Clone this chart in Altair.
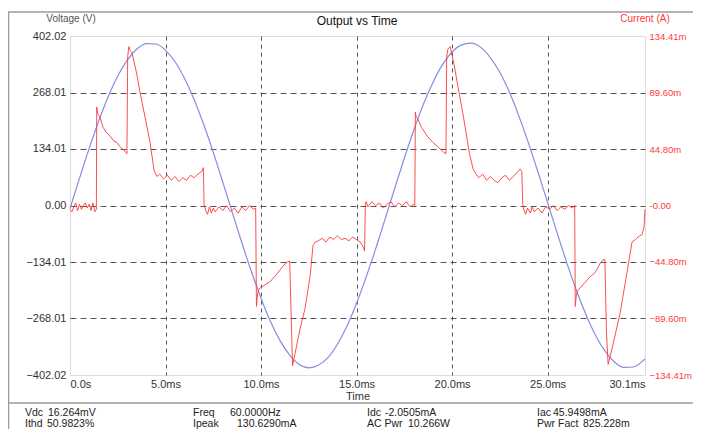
import altair as alt
import pandas as pd

# ---------------- data ----------------
# Voltage (V) sampled every 0.5 ms
t_volt = [0.0, 0.5, 1.0, 1.5, 2.0, 2.5, 3.0, 3.5, 4.0, 4.5,
          5.0, 5.5, 6.0, 6.5, 7.0, 7.5, 8.0, 8.5, 9.0, 9.5,
          10.0, 10.5, 11.0, 11.5, 12.0, 12.5, 13.0, 13.5, 14.0, 14.5,
          15.0, 15.5, 16.0, 16.5, 17.0, 17.5, 18.0, 18.5, 19.0, 19.5,
          20.0, 20.5, 21.0, 21.5, 22.0, 22.5, 23.0, 23.5, 24.0, 24.5,
          25.0, 25.5, 26.0, 26.5, 27.0, 27.5, 28.0, 28.5, 29.0, 29.5,
          30.0, 30.1]
v_volt = [-7, 65, 135, 200, 258, 307, 345, 371, 384, 383,
          368, 341, 301, 251, 192, 126, 55, -17, -89, -157,
          -220, -276, -321, -355, -377, -385, -379, -361, -329, -286,
          -232, -170, -103, -31, 41, 112, 179, 240, 292, 334,
          364, 381, 385, 375, 351, 316, 269, 212, 148, 79,
          7, -65, -135, -200, -258, -307, -345, -371, -384, -383,
          -368, -364]

# Current (mA)
t_cur = [0.0, 0.1, 0.2, 0.3, 0.4, 0.5, 0.6, 0.7, 0.8, 0.9, 1.0, 1.1, 1.2, 1.3, 1.38,
         1.40, 1.45, 1.57, 1.73, 1.9, 2.1, 2.3, 2.46, 2.65, 2.88, 2.98,
         3.02, 3.08, 3.15, 3.25, 3.5, 3.66, 3.93, 4.19, 4.4, 4.55,
         4.7, 4.9, 5.1, 5.3, 5.5, 5.7, 5.9, 6.1, 6.3, 6.5, 6.7, 6.9, 6.98, 7.02,
         7.1, 7.2, 7.3, 7.4, 7.5, 7.6, 7.8, 8.0, 8.2, 8.4, 8.6, 8.8, 9.0, 9.2, 9.4, 9.6, 9.72,
         9.76, 9.82, 9.9, 10.2, 10.5, 10.85, 11.15, 11.36, 11.5,
         11.6, 11.65, 12.04, 12.3, 12.57, 12.72, 12.83,
         13.0, 13.2, 13.4, 13.6, 13.8, 14.0, 14.2, 14.4, 14.6, 14.8, 15.0, 15.2, 15.35, 15.42,
         15.46, 15.5, 15.6, 15.8, 16.0, 16.2, 16.4, 16.6, 16.8, 17.0, 17.2, 17.4, 17.6, 17.8, 18.0, 18.05,
         18.08, 18.12, 18.2, 18.4, 18.7, 19.0, 19.3, 19.5, 19.68,
         19.72, 19.78, 19.9, 20.1, 20.3, 20.6, 20.9, 21.1, 21.25,
         21.4, 21.6, 21.8, 22.0, 22.2, 22.4, 22.6, 22.8, 23.0, 23.2, 23.4, 23.55, 23.65, 23.7,
         23.75, 23.85, 23.95, 24.1, 24.2, 24.3, 24.5, 24.7, 24.9, 25.1, 25.3, 25.5, 25.7, 25.9, 26.1, 26.3, 26.42,
         26.45, 26.5, 26.55, 26.96, 27.2, 27.5, 27.75, 27.9, 28.0,
         28.08, 28.17, 28.4, 28.8, 29.16, 29.42, 29.6, 29.74, 29.95, 30.05, 30.1]
i_cur = [-3, -5, -1, 2, -4, 1, -3, 0, 2, -2, 1, -4, 2, -5, -3,
         78, 73, 70, 62, 58, 55, 51, 50, 46, 43, 41,
         118, 126, 123, 121, 104, 90, 70, 50, 28, 23,
         25, 21, 24, 20, 23, 19, 22, 20, 24, 22, 25, 27, 30, 1,
         -4, -7, -1, -6, -2, -5, -1, -4, 0, -5, -2, -6, -1, -4, 0, -3, -2,
         -80, -70, -66, -63, -60, -54, -48, -45, -44,
         -100, -127, -98, -82, -56, -32, -29,
         -28, -26, -29, -25, -27, -24, -27, -26, -28, -25, -27, -29, -33, -36,
         1, 3, -1, 3, 0, 2, -2, 1, 3, -1, 2, 0, 3, -1, 1, 0,
         74, 70, 69, 62, 55, 50, 46, 43, 41,
         118, 124, 126, 112, 95, 70, 42, 29, 25,
         22, 25, 20, 23, 20, 18, 22, 24, 20, 23, 26, 29, 27, 1,
         -3, -7, -2, -6, -1, -5, -2, -6, -1, -3, 0, -4, -1, -3, 0, -2, 0,
         -80, -72, -68, -61, -57, -53, -46, -43, -43,
         -100, -126, -112, -85, -53, -29, -27, -25, -23, -17, -3]

x_ticks = [0, 5, 10, 15, 20, 25, 30.1]
v_ticks = [-402.02, -268.01, -134.01, 0, 134.01, 268.01, 402.02]
i_ticks = [-134.41, -89.60, -44.80, 0, 44.80, 89.60, 134.41]

stat_names = ["Vdc", "Ithd", "Freq", "Ipeak", "Idc", "AC Pwr", "Iac", "Pwr Fact"]
stat_values = ["16.264mV", "50.9823%", "60.0000Hz", "130.6290mA",
               "-2.0505mA", "10.266W", "45.9498mA", "825.228m"]

# ---------------- layout / style ----------------
FONT = "Liberation Sans"
W, H = 575, 339
PLOT_X0, PLOT_Y0 = 70, 36          # page position of plot origin
RED = "#ff3a3a"
BLUE = "#8a8ae0"

volt_df = pd.DataFrame({"t": t_volt, "v": v_volt})
cur_df = pd.DataFrame({"t": t_cur, "i": i_cur})
one = pd.DataFrame({"a": [0]})

xscale = alt.Scale(domain=[0, 30.1], nice=False, zero=False)
vscale = alt.Scale(domain=[-402.02, 402.02], nice=False)
iscale = alt.Scale(domain=[-134.41, 134.41], nice=False)

x_axis = alt.Axis(
    values=x_ticks, title="Time", grid=True, ticks=False, domain=False,
    labelExpr="datum.value == 0 ? '0.0s' : format(datum.value, '.1f') + 'ms'",
    gridDash=[4, 4], gridColor="#555555", gridWidth=1,
    gridOpacity=alt.condition("datum.value == 0 || datum.value > 30", alt.value(0), alt.value(1)),
    labelPadding=3, titlePadding=1, labelColor="#333333", titleColor="#333333",
    labelFontSize=11, titleFontSize=11, labelFontWeight="normal", titleFontWeight="normal",
)
v_axis = alt.Axis(
    values=v_ticks, title=None, grid=True, ticks=False, domain=False,
    format=".2f", gridDash=[6, 4], gridColor="#555555", gridWidth=1,
    gridOpacity=alt.condition("abs(datum.value) > 400", alt.value(0), alt.value(1)),
    labelPadding=4, labelColor="#333333", labelFontSize=11,
)
i_axis = alt.Axis(
    values=i_ticks, title=None, grid=False, ticks=False, domain=False, orient="right",
    labelExpr="datum.value == 0 ? '-0.00' : format(datum.value, '.2f') + 'm'",
    labelPadding=4, labelColor=RED, labelFontSize=9.5,
)

voltage = alt.Chart(volt_df).mark_line(color=BLUE, strokeWidth=1.2, interpolate="monotone").encode(
    x=alt.X("t:Q", scale=xscale, axis=x_axis),
    y=alt.Y("v:Q", scale=vscale, axis=v_axis),
)
current = alt.Chart(cur_df).mark_line(color=RED, strokeWidth=1, opacity=0.9).encode(
    x=alt.X("t:Q", scale=xscale),
    y=alt.Y("i:Q", scale=iscale, axis=i_axis),
)


def px(x):
    return x - PLOT_X0


def py(y):
    return y - PLOT_Y0


def label(text, x, y, size=11, color="#222222", align="left"):
    return alt.Chart(one).mark_text(
        text=text, font=FONT, fontSize=size, color=color, align=align, baseline="middle"
    ).encode(x=alt.value(px(x)), y=alt.value(py(y)))


def hline(x1, x2, y, color="#9a9a9a", w=1.5):
    return alt.Chart(one).mark_rule(color=color, strokeWidth=w).encode(
        x=alt.value(px(x1)), x2=alt.value(px(x2)), y=alt.value(py(y)))


def vline(x, y1, y2, color="#9a9a9a", w=1.5):
    return alt.Chart(one).mark_rule(color=color, strokeWidth=w).encode(
        x=alt.value(px(x)), y=alt.value(py(y1)), y2=alt.value(py(y2)))


texts = [
    label("Output vs Time", 357, 21, size=12, color="#111111", align="center"),
    label("Voltage (V)", 71, 19, size=10, color="#555555", align="center"),
    label("Current (A)", 645, 19, size=10, color=RED, align="center"),
]

name_x = [25, 25, 193, 193, 367, 367, 537, 537]
value_x = [48, 47, 230, 237, 385, 408, 553, 583]
stat_y = [413, 424, 413, 424, 413, 424, 413, 424]
for n, v, nx, vx, sy in zip(stat_names, stat_values, name_x, value_x, stat_y):
    texts.append(label(n, nx, sy, size=10.5))
    texts.append(label(v, vx, sy, size=10.5))

frame = [
    vline(8.5, 12, 438),
    hline(8, 701, 12),
    hline(8, 701, 403),
]

chart = alt.layer(voltage, current, *frame, *texts).resolve_scale(y="independent").properties(
    width=W, height=H,
    autosize=alt.AutoSizeParams(type="none"),
    padding={"left": 62, "top": 28, "right": 48, "bottom": 54},
).configure_view(stroke="#8a8a9a", strokeWidth=1.2).configure_axis(
    labelFont=FONT, titleFont=FONT
).configure(background="white")

chart.save("out.html", embed_options={"renderer": "svg", "actions": False})
